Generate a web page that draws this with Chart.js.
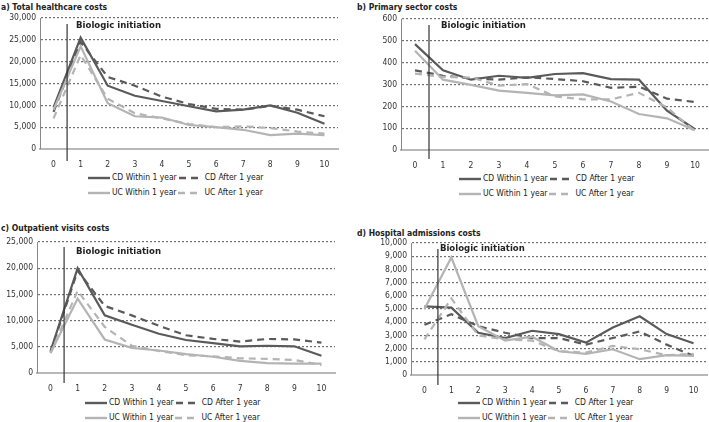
<!DOCTYPE html>
<html>
<head>
<meta charset="utf-8">
<script src="https://cdn.jsdelivr.net/npm/chart.js@4.4.1/dist/chart.umd.min.js"></script>
<style>
  body { margin: 0; background: #fff; width: 709px; height: 422px; overflow: hidden; position: relative;
         font-family: "DejaVu Sans Condensed", "DejaVu Sans", sans-serif; color: #222; }
  .title { position: absolute; font-size: 8.5px; font-weight: bold; white-space: nowrap; }
  .cv { position: absolute; }
  .legend { position: absolute; font-size: 8.5px; line-height: 15px; white-space: nowrap; }
  .legend .row { display: flex; align-items: center; height: 15px; }
  .legend svg { display: block; }
  .legend span { margin: 0 2px; }
</style>
</head>
<body>
<div class="title" style="left:1px;top:2px">a) Total healthcare costs</div>
<div class="title" style="left:357px;top:2px">b) Primary sector costs</div>
<div class="title" style="left:1px;top:223px">c) Outpatient visits costs</div>
<div class="title" style="left:357px;top:228px">d) Hospital admissions costs</div>

<div class="cv" style="left:0;top:0;width:355px;height:170px"><canvas id="chartTotal"></canvas></div>
<div class="cv" style="left:355px;top:0;width:354px;height:170px"><canvas id="chartPrimary"></canvas></div>
<div class="cv" style="left:0;top:210px;width:355px;height:183px"><canvas id="chartOutpatient"></canvas></div>
<div class="cv" style="left:355px;top:210px;width:354px;height:185px"><canvas id="chartHospital"></canvas></div>

<div class="legend" id="legendTotal" style="left:88px;top:170px"></div>
<div class="legend" id="legendPrimary" style="left:459px;top:171px"></div>
<div class="legend" id="legendOutpatient" style="left:85px;top:395px"></div>
<div class="legend" id="legendHospital" style="left:458px;top:395px"></div>

<script>
const years = ['0', '1', '2', '3', '4', '5', '6', '7', '8', '9', '10'];
const seriesLabels = ['CD Within 1 year', 'CD After 1 year', 'UC Within 1 year', 'UC After 1 year'];
const markerLabel = 'Biologic initiation';

// a) Total healthcare costs
const totalCdWithin = [9500, 25500, 14500, 12200, 11000, 9800, 8600, 9000, 10000, 8300, 5800];
const totalCdAfter = [8500, 24500, 16500, 14500, 12000, 10300, 9200, 9000, 9900, 9000, 7500];
const totalUcWithin = [9000, 23500, 10500, 7500, 7200, 5500, 5000, 4400, 3200, 3500, 3200];
const totalUcAfter = [7000, 21500, 11500, 8200, 7000, 5700, 5000, 5200, 4800, 4000, 3500];

// b) Primary sector costs
const primaryCdWithin = [485, 365, 322, 340, 330, 348, 352, 325, 322, 180, 95];
const primaryCdAfter = [365, 340, 328, 322, 333, 325, 315, 285, 290, 235, 220];
const primaryUcWithin = [455, 322, 298, 272, 262, 250, 255, 222, 165, 145, 90];
const primaryUcAfter = [350, 335, 332, 295, 302, 245, 232, 232, 262, 195, 85];

// c) Outpatient visits costs
const outCdWithin = [4200, 20000, 11000, 9200, 7500, 6300, 5700, 5100, 5200, 5100, 3300];
const outCdAfter = [4000, 19500, 12800, 11000, 9000, 7200, 6500, 6000, 6500, 6400, 5800];
const outUcWithin = [3800, 14200, 6400, 4800, 4300, 3600, 3100, 2300, 1900, 1800, 1800];
const outUcAfter = [3800, 15700, 8800, 5200, 4200, 3400, 3200, 2800, 2700, 2500, 1500];

// d) Hospital admissions costs
const hospCdWithin = [5200, 5100, 3200, 2800, 3350, 3100, 2450, 3600, 4450, 3100, 2400];
const hospCdAfter = [3800, 4600, 3700, 3200, 2800, 2800, 2300, 2800, 3300, 2300, 1450];
const hospUcWithin = [5000, 8900, 3700, 2600, 2900, 1800, 1600, 1950, 1200, 1500, 1450];
const hospUcAfter = [2700, 5800, 3000, 2700, 2600, 1800, 1700, 2200, 1950, 1500, 1600];

const DARK = '#5a5a5a';
const LIGHT = '#b4b4b4';
const styles = [
  { color: DARK, dash: [] },
  { color: DARK, dash: [7, 5] },
  { color: LIGHT, dash: [] },
  { color: LIGHT, dash: [7, 5] },
];
const FONT = '"DejaVu Sans Condensed", "DejaVu Sans", sans-serif';

// vertical line between year 0 and year 1
const initiationPlugin = {
  id: 'initiation',
  afterDraw(chart, args, opts) {
    const { ctx, chartArea } = chart;
    const x = chart.scales.x.getPixelForValue(0.5);
    ctx.save();
    ctx.strokeStyle = '#333';
    ctx.lineWidth = 1.2;
    ctx.beginPath();
    ctx.moveTo(x, chartArea.top + opts.top);
    ctx.lineTo(x, chartArea.bottom + opts.bottom);
    ctx.stroke();
    ctx.fillStyle = '#222';
    ctx.font = '600 9.5px ' + FONT;
    ctx.textBaseline = 'middle';
    ctx.fillText(markerLabel, x + opts.textDx, chartArea.top + opts.textDy);
    ctx.restore();
  },
};

function drawPanel(id, values, opt) {
  const ctx = document.getElementById(id).getContext('2d');
  new Chart(ctx, {
    type: 'line',
    data: {
      labels: years,
      datasets: values.map((v, i) => ({
        label: seriesLabels[i],
        data: v,
        borderColor: styles[i].color,
        borderDash: styles[i].dash,
        borderWidth: 2.2,
        pointRadius: 0,
        tension: 0,
        fill: false,
      })).reverse(),
    },
    options: {
      responsive: true,
      maintainAspectRatio: false,
      animation: false,
      layout: { padding: { top: opt.padTop, right: opt.padRight, left: 0, bottom: 0 } },
      plugins: {
        legend: { display: false },
        tooltip: { enabled: false },
        initiation: opt.marker,
      },
      scales: {
        x: {
          offset: true,
          grid: { display: false },
          border: { display: true, color: '#b8b8b8', width: 2 },
          ticks: { color: '#333', font: { family: FONT, size: 8.5 }, padding: 3, maxRotation: 0 },
          afterFit: (s) => { s.height = opt.xHeight; },
        },
        y: {
          min: 0,
          max: opt.max,
          ticks: {
            stepSize: opt.step,
            color: '#333',
            font: { family: FONT, size: 8.5 },
            padding: 4,
            callback: (v) => v.toLocaleString('en-US'),
          },
          grid: { color: '#707070', lineWidth: 1.2, tickLength: 0 },
          border: { display: true, color: '#888', width: 1, dash: [2, 2] },
          afterFit: (s) => { s.width = opt.yWidth; },
        },
      },
    },
    plugins: [initiationPlugin],
  });
}

function buildLegend(id) {
  const el = document.getElementById(id);
  const swatch = (s, w) =>
    `<svg width="${w}" height="6"><line x1="0" y1="3" x2="${w}" y2="3" stroke="${s.color}" stroke-width="2.4" stroke-dasharray="${s.dash.length ? '7 5' : 'none'}"/></svg>`;
  el.innerHTML = [0, 2]
    .map((i) =>
      `<div class="row">${swatch(styles[i], 22)}<span>${seriesLabels[i]}</span>${swatch(styles[i + 1], 24)}<span>${seriesLabels[i + 1]}</span></div>`)
    .join('');
}

drawPanel('chartTotal', [totalCdWithin, totalCdAfter, totalUcWithin, totalUcAfter], {
  max: 30000, step: 5000, padTop: 18, padRight: 17, yWidth: 40, xHeight: 21,
  marker: { top: 6, bottom: 12, textDx: 9, textDy: 8 },
});
drawPanel('chartPrimary', [primaryCdWithin, primaryCdAfter, primaryUcWithin, primaryUcAfter], {
  max: 600, step: 100, padTop: 19, padRight: 0, yWidth: 46, xHeight: 20,
  marker: { top: 6, bottom: 9, textDx: 12, textDy: 7 },
});
drawPanel('chartOutpatient', [outCdWithin, outCdAfter, outUcWithin, outUcAfter], {
  max: 25000, step: 5000, padTop: 32, padRight: 20, yWidth: 37, xHeight: 20,
  marker: { top: 5, bottom: 10, textDx: 12, textDy: 10 },
});
drawPanel('chartHospital', [hospCdWithin, hospCdAfter, hospUcWithin, hospUcAfter], {
  max: 10000, step: 1000, padTop: 33, padRight: 2, yWidth: 56, xHeight: 20,
  marker: { top: 6, bottom: 10, textDx: 2, textDy: 6 },
});

['legendTotal', 'legendPrimary', 'legendOutpatient', 'legendHospital'].forEach(buildLegend);
</script>
</body>
</html>
